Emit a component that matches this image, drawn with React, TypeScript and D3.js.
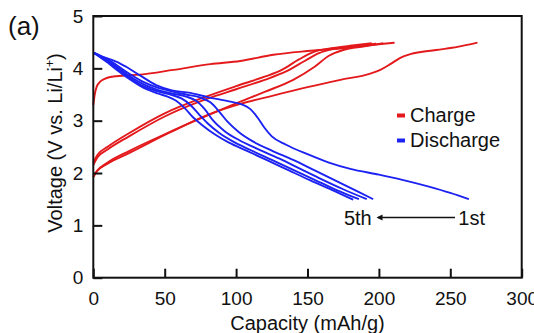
import React, { useEffect, useRef } from "react";
import * as d3 from "d3";

type Pt = [number, number];

// capacity (mAh/g), voltage (V)
const charge1: Pt[] = [
    [0, 3.3], [1, 3.5], [2.4, 3.65], [5, 3.75], [8, 3.8], [16, 3.85], [33, 3.88], [56, 3.97],
    [82, 4.08], [103, 4.14], [126, 4.26], [150, 4.33], [173, 4.38], [196, 4.45], [211, 4.49],
];
const charge2: Pt[] = [
    [0, 1.95], [3, 2.05], [10, 2.18], [25, 2.38], [54, 2.78], [82, 3.13], [103, 3.32],
    [126, 3.48], [150, 3.64], [173, 3.78], [194, 3.9], [201, 3.97], [208, 4.08], [215, 4.2],
    [222, 4.27], [240, 4.35], [255, 4.41], [269, 4.49],
];
const charge3: Pt[] = [
    [0, 1.92], [3, 2.05], [10, 2.2], [25, 2.42], [50, 2.74], [80, 3.1], [100, 3.33],
    [120, 3.55], [140, 3.78], [155, 4.03], [165, 4.24], [175, 4.35], [190, 4.42], [203, 4.48],
];
const charge4: Pt[] = [
    [0, 2.15], [3, 2.3], [10, 2.45], [25, 2.7], [50, 3.08], [80, 3.42], [100, 3.6],
    [120, 3.78], [135, 3.94], [148, 4.14], [158, 4.29], [170, 4.38], [185, 4.43], [198, 4.47],
];
const charge5: Pt[] = [
    [0, 2.2], [3, 2.35], [10, 2.5], [25, 2.76], [50, 3.14], [80, 3.47], [100, 3.66],
    [120, 3.84], [132, 3.97], [144, 4.17], [154, 4.31], [168, 4.39], [183, 4.44], [195, 4.48],
];

const discharge1: Pt[] = [
    [0, 4.3], [5, 4.24], [10, 4.19], [16, 4.13], [23, 4.03], [33, 3.86], [44, 3.68], [55, 3.58],
    [68, 3.53], [80, 3.45], [95, 3.37], [104, 3.31], [110, 3.22], [115, 3.06], [120, 2.86],
    [125, 2.7], [135, 2.54], [150, 2.36], [165, 2.2], [180, 2.08], [200, 1.97], [215, 1.88],
    [235, 1.74], [250, 1.62], [263, 1.5],
];
const discharge2: Pt[] = [
    [0, 4.3], [5, 4.24], [10, 4.17], [17, 4.05], [25, 3.9], [35, 3.74], [45, 3.63], [55, 3.56],
    [65, 3.5], [75, 3.44], [82, 3.35], [88, 3.18], [94, 2.98], [102, 2.78], [112, 2.6],
    [125, 2.43], [140, 2.25], [155, 2.05], [170, 1.85], [185, 1.65], [196, 1.5],
];
const discharge3: Pt[] = [
    [0, 4.3], [5, 4.23], [10, 4.15], [17, 4.02], [25, 3.86], [35, 3.7], [45, 3.59], [55, 3.52],
    [65, 3.46], [72, 3.38], [78, 3.22], [84, 3.0], [92, 2.8], [102, 2.63], [115, 2.46],
    [130, 2.28], [145, 2.08], [160, 1.88], [175, 1.69], [191.5, 1.5],
];
const discharge4: Pt[] = [
    [0, 4.3], [5, 4.22], [10, 4.13], [17, 3.99], [25, 3.83], [35, 3.66], [45, 3.56], [55, 3.49],
    [62, 3.42], [68, 3.3], [74, 3.12], [80, 2.95], [88, 2.77], [98, 2.6], [110, 2.44],
    [125, 2.25], [140, 2.06], [155, 1.87], [170, 1.68], [186, 1.5],
];
const discharge5: Pt[] = [
    [0, 4.3], [5, 4.21], [10, 4.11], [17, 3.96], [25, 3.8], [35, 3.63], [45, 3.52], [52, 3.46],
    [58, 3.38], [64, 3.24], [70, 3.06], [77, 2.9], [85, 2.74], [95, 2.58], [108, 2.42],
    [122, 2.24], [137, 2.05], [152, 1.86], [167, 1.68], [182, 1.49],
];

const chargeCurves = [charge1, charge2, charge3, charge4, charge5];
const dischargeCurves = [discharge1, discharge2, discharge3, discharge4, discharge5];

const xTicks = [0, 50, 100, 150, 200, 250, 300];
const yTicks = [0, 1, 2, 3, 4, 5];
const legendLabels = ["Charge", "Discharge"];

const RED = "#e3191c";
const BLUE = "#1c22f2";
const FONT = "'Liberation Sans', Arial, Helvetica, sans-serif";

const Chart: React.FC = () => {
    const svgRef = useRef<SVGSVGElement | null>(null);

    useEffect(() => {
        const width = 534;
        const height = 333;
        const plot = { left: 93.3, right: 521.7, top: 16, bottom: 277.7 };

        const root = d3.select(svgRef.current);
        root.selectAll("*").remove();
        root.attr("width", width).attr("height", height);

        const svg = root.append("g");

        const x = d3.scaleLinear().domain([0, 300]).range([plot.left, plot.right]);
        const y = d3.scaleLinear().domain([0, 5]).range([plot.bottom, plot.top]);

        const line = d3
            .line<Pt>()
            .x((d) => x(d[0]))
            .y((d) => y(d[1]))
            .curve(d3.curveMonotoneX);

        // curves
        chargeCurves.forEach((c) => {
            svg.append("path")
                .attr("d", line(c)!)
                .attr("fill", "none")
                .attr("stroke", RED)
                .attr("stroke-width", 1.9)
                .attr("stroke-linejoin", "round");
        });
        dischargeCurves.forEach((c) => {
            svg.append("path")
                .attr("d", line(c)!)
                .attr("fill", "none")
                .attr("stroke", BLUE)
                .attr("stroke-width", 1.9)
                .attr("stroke-linejoin", "round");
        });

        // axes (inward ticks)
        const xAxis = d3
            .axisBottom(x)
            .tickValues(xTicks)
            .tickFormat(d3.format("d"))
            .tickSizeInner(-9)
            .tickSizeOuter(0)
            .tickPadding(14);
        const yAxis = d3
            .axisLeft(y)
            .tickValues(yTicks)
            .tickFormat(d3.format("d"))
            .tickSizeInner(-9)
            .tickSizeOuter(0)
            .tickPadding(10);

        const gx = svg
            .append("g")
            .attr("transform", `translate(0,${plot.bottom})`)
            .call(xAxis);
        const gy = svg
            .append("g")
            .attr("transform", `translate(${plot.left},0)`)
            .call(yAxis);

        [gx, gy].forEach((g) => {
            g.select(".domain").remove();
            g.selectAll("line").attr("stroke", "#111").attr("stroke-width", 2);
            g.selectAll("text")
                .attr("fill", "#111")
                .style("font-family", FONT)
                .style("font-size", "19px");
        });

        // frame
        svg.append("rect")
            .attr("x", plot.left)
            .attr("y", plot.top)
            .attr("width", plot.right - plot.left)
            .attr("height", plot.bottom - plot.top)
            .attr("fill", "none")
            .attr("stroke", "#111")
            .attr("stroke-width", 2);

        // axis titles
        svg.append("text")
            .attr("x", (plot.left + plot.right) / 2)
            .attr("y", 330)
            .attr("text-anchor", "middle")
            .style("font-family", FONT)
            .style("font-size", "20px")
            .attr("fill", "#111")
            .text("Capacity (mAh/g)");

        const yt = svg
            .append("text")
            .attr("transform", "rotate(-90)")
            .attr("x", -143)
            .attr("y", 62)
            .attr("text-anchor", "middle")
            .style("font-family", FONT)
            .style("font-size", "20px")
            .attr("fill", "#111");
        yt.append("tspan").text("Voltage (V vs. Li/Li");
        yt.append("tspan").attr("dy", -8).style("font-size", "12px").text("+");
        yt.append("tspan").attr("dy", 8).text(")");

        // panel label
        svg.append("text")
            .attr("x", 8)
            .attr("y", 35)
            .style("font-family", FONT)
            .style("font-size", "26px")
            .attr("fill", "#111")
            .text("(a)");

        // legend
        const legend = svg.append("g").attr("transform", "translate(397,0)");
        legendLabels.forEach((label, i) => {
            const ly = 122 + i * 25;
            legend
                .append("rect")
                .attr("x", 0)
                .attr("y", ly - 8.5)
                .attr("width", 8)
                .attr("height", 4)
                .attr("fill", i === 0 ? RED : BLUE);
            legend
                .append("text")
                .attr("x", 13)
                .attr("y", ly)
                .style("font-family", FONT)
                .style("font-size", "20px")
                .attr("fill", "#111")
                .text(label);
        });

        // cycle annotation
        const ay = y(1.15);
        svg.append("text")
            .attr("x", x(195))
            .attr("y", y(1.0))
            .attr("text-anchor", "end")
            .style("font-family", FONT)
            .style("font-size", "20px")
            .attr("fill", "#111")
            .text("5th");
        svg.append("text")
            .attr("x", x(255.6))
            .attr("y", y(1.0))
            .style("font-family", FONT)
            .style("font-size", "20px")
            .attr("fill", "#111")
            .text("1st");
        svg.append("line")
            .attr("x1", x(253.3))
            .attr("x2", x(199.5))
            .attr("y1", ay)
            .attr("y2", ay)
            .attr("stroke", "#111")
            .attr("stroke-width", 1.3);
        const ax = x(198.3);
        svg.append("path")
            .attr("d", `M${ax},${ay} L${ax + 6},${ay - 3} L${ax + 6},${ay + 3} Z`)
            .attr("fill", "#111");
    }, []);

    return (
        <svg
            ref={svgRef}
            style={{ position: "absolute", left: 0, top: 0, background: "#fff" }}
        />
    );
};

export default function App() {
    return <Chart />;
}
